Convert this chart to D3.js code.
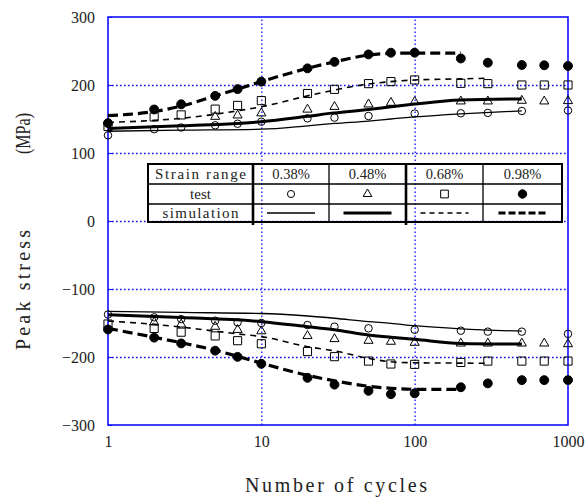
<!DOCTYPE html>
<html>
<head>
<meta charset="utf-8">
<script src="https://cdn.jsdelivr.net/npm/d3@7"></script>
<style>
  html, body { margin: 0; padding: 0; background: #fff; }
  svg { display: block; }
</style>
</head>
<body>
<svg id="chart" width="586" height="500"></svg>
<script>
// ---- data ----------------------------------------------------------------
const strainRanges = ["0.38%", "0.48%", "0.68%", "0.98%"];
const yTicks = [-300, -200, -100, 0, 100, 200, 300];
const xTicks = [1, 10, 100, 1000];

// test results (peak tensile / compressive stress, MPa)
const cyc038 = [1, 2, 3, 5, 7, 10, 20, 30, 50, 100, 200, 300, 500, 1000];
const testUp038 = [126, 135, 137.5, 140.7, 143, 146, 151, 152, 154.4, 158, 158.4, 159, 161.8, 162.5];
const testDn038 = [-137.5, -141.7, -144.3, -146.6, -149, -150, -153, -155.4, -157.8, -160, -161.3, -162.7, -162.7, -166];

const cycUp048 = [5, 7, 10, 20, 30, 50, 70, 100, 200, 300, 500, 700, 1000];
const testUp048 = [153.4, 155.4, 158.5, 164, 168, 171.6, 174, 175.3, 176, 176, 177, 176, 176.5];
const cycDn048 = [2, 3, 5, 7, 10, 20, 30, 50, 70, 100, 200, 300, 500, 700, 1000];
const testDn048 = [-149, -152, -155.4, -160, -162, -169, -173.5, -176, -177.4, -178.9, -180, -180, -180, -180, -181];

const cycAll = [1, 2, 3, 5, 7, 10, 20, 30, 50, 70, 100, 200, 300, 500, 700, 1000];
const testUp068 = [139, 153, 156, 164.5, 170, 177, 187.5, 193.6, 202, 205, 207.4, 202.5, 202, 200, 200, 200];
const testDn068 = [-151.5, -158, -163.5, -169, -176, -180.5, -192, -199.5, -206, -210.3, -210.8, -208, -206, -206, -206, -206];
const testUp098 = [144, 164, 171.6, 184, 194, 205, 224.5, 234, 245, 247.5, 247.5, 239, 232.8, 229.4, 229, 228];
const testDn098 = [-159.5, -171.5, -180, -190.7, -199.8, -210, -230.6, -240.6, -249.7, -254.7, -253.4, -244.5, -238.8, -234, -234, -234];

// simulation curves
const simCyc038 = [1, 3, 10, 20, 30, 50, 70, 100, 200, 500];
const simUp038 = [132, 133.5, 135, 140, 143.5, 147, 150, 153, 157.5, 162];
const simDn038 = [-133, -134.5, -136, -139.7, -143, -148, -150.5, -154, -158.5, -162];

const simCyc048 = [1, 3, 10, 20, 30, 50, 70, 100, 200, 500];
const simUp048 = [136, 140, 146, 154, 159, 164, 168, 172, 178, 179.5];
const simDn048 = [-138, -142, -148, -155.4, -160, -167.6, -171, -174, -180, -181];

const simCyc068 = [1, 2, 3, 5, 7, 10, 20, 30, 50, 70, 100, 200, 300];
const simUp068 = [145, 148, 151, 157, 162, 168, 184, 192.6, 201.5, 205, 207.4, 209, 210];
const simDn068 = [-147, -152, -156, -162, -166, -170, -184.8, -191, -202, -207, -208.5, -209, -209.3];

const simCyc098 = [1, 2, 3, 5, 7, 10, 20, 30, 50, 70, 100, 200];
const simUp098 = [155, 161, 169, 184, 194, 205, 224.5, 234, 244, 246.5, 247, 247];
const simDn098 = [-158, -171, -179, -190, -199, -209, -227, -235, -243, -246, -247.5, -247.5];

// ---- layout ---------------------------------------------------------------
const svg = d3.select("#chart");
const L = 108, R = 568, T = 17, B = 425;
const x = d3.scaleLog().domain([1, 1000]).range([L, R]);
const y = d3.scaleLinear().domain([-300, 300]).range([B, T]);

const blue = "#1010ff";
const ink = "#222";
const serif = "'Liberation Serif', 'Times New Roman', serif";

// grid
svg.append("g")
  .attr("transform", `translate(${L},0)`)
  .call(d3.axisLeft(y).tickValues([-200, -100, 0, 100, 200]).tickSize(-(R - L)).tickFormat(""))
  .call(g => g.select(".domain").remove())
  .selectAll("line")
  .attr("stroke", blue).attr("stroke-width", 1.3).attr("stroke-dasharray", "1.6,2.4");

svg.append("g")
  .attr("transform", `translate(0,${B})`)
  .call(d3.axisBottom(x).tickValues([10, 100]).tickSize(-(B - T)).tickFormat(""))
  .call(g => g.select(".domain").remove())
  .selectAll("line")
  .attr("stroke", blue).attr("stroke-width", 1.3).attr("stroke-dasharray", "1.6,2.4");

// axes with labels
const yAxis = svg.append("g")
  .attr("transform", `translate(${L},0)`)
  .call(d3.axisLeft(y).tickValues(yTicks).tickSize(-4).tickPadding(13));
yAxis.select(".domain").remove();
yAxis.selectAll("line").attr("stroke", blue);
yAxis.selectAll("text").attr("font-family", serif).attr("font-size", 16).attr("fill", ink);

const xAxis = svg.append("g")
  .attr("transform", `translate(0,${B})`)
  .call(d3.axisBottom(x).tickValues(xTicks).tickSize(0).tickPadding(11).tickFormat(d3.format("d")));
xAxis.select(".domain").remove();
xAxis.selectAll("text").attr("font-family", serif).attr("font-size", 16).attr("fill", ink);

// frame
svg.append("rect")
  .attr("x", L).attr("y", T).attr("width", R - L).attr("height", B - T)
  .attr("fill", "none").attr("stroke", blue).attr("stroke-width", 1.6);

// axis titles (fixed-pitch look via textLength)
svg.append("text")
  .attr("x", 245).attr("y", 492)
  .attr("font-family", serif).attr("font-size", 20).attr("fill", ink)
  .attr("textLength", 182).attr("lengthAdjust", "spacing")
  .text("Number of cycles");

const yTitle = svg.append("g").attr("transform", "translate(30,0) rotate(-90)");
yTitle.append("text")
  .attr("x", -350).attr("y", 0)
  .attr("font-family", serif).attr("font-size", 20).attr("fill", ink)
  .attr("textLength", 120).attr("lengthAdjust", "spacing")
  .text("Peak stress");
yTitle.append("text")
  .attr("x", -154).attr("y", 0)
  .attr("font-family", serif).attr("font-size", 20).attr("fill", ink)
  .attr("textLength", 41).attr("lengthAdjust", "spacingAndGlyphs")
  .text("(MPa)");

// ---- simulation curves ----------------------------------------------------
const lineGen = d3.line().x(d => x(d[0])).y(d => y(d[1])).curve(d3.curveMonotoneX);
const simStyles = [
  { w: 1.3, dash: null },
  { w: 3, dash: null },
  { w: 1.6, dash: "6,5" },
  { w: 3.2, dash: "10,5" }
];
const sims = [
  [simCyc038, simUp038, simDn038],
  [simCyc048, simUp048, simDn048],
  [simCyc068, simUp068, simDn068],
  [simCyc098, simUp098, simDn098]
];
sims.forEach(([c, up, dn], i) => {
  [up, dn].forEach(vals => {
    svg.append("path")
      .datum(c.map((cv, k) => [cv, vals[k]]))
      .attr("d", lineGen)
      .attr("fill", "none").attr("stroke", "#000")
      .attr("stroke-width", simStyles[i].w)
      .attr("stroke-dasharray", simStyles[i].dash);
  });
});

// ---- test markers ---------------------------------------------------------
const markers = [
  { type: d3.symbolCircle, size: 44, fill: "none" },
  { type: d3.symbolTriangle, size: 36, fill: "none" },
  { type: d3.symbolSquare, size: 66, fill: "none" },
  { type: d3.symbolCircle, size: 62, fill: "#000" }
];
const tests = [
  [[cyc038, testUp038], [cyc038, testDn038]],
  [[cycUp048, testUp048], [cycDn048, testDn048]],
  [[cycAll, testUp068], [cycAll, testDn068]],
  [[cycAll, testUp098], [cycAll, testDn098]]
];
tests.forEach((pairs, i) => {
  const m = markers[i];
  const sym = d3.symbol().type(m.type).size(m.size);
  pairs.forEach(([c, vals]) => {
    svg.append("g").selectAll("path")
      .data(c.map((cv, k) => [cv, vals[k]]))
      .join("path")
      .attr("transform", d => `translate(${x(d[0])},${y(d[1])})`)
      .attr("d", sym)
      .attr("fill", m.fill)
      .attr("stroke", "#000").attr("stroke-width", 1);
  });
});

// ---- legend table ---------------------------------------------------------
const colX = [148, 253, 329, 406, 483, 562];
const rowY = [164, 184, 204, 222];
const tbl = svg.append("g");
rowY.forEach((ry, i) => {
  tbl.append("line")
    .attr("x1", colX[0]).attr("x2", colX[5]).attr("y1", ry).attr("y2", ry)
    .attr("stroke", "#000").attr("stroke-width", (i === 0 || i === 3) ? 2 : 1.5);
});
colX.forEach((cx, i) => {
  const thick = (i === 1 || i === 3);
  tbl.append("line")
    .attr("x1", cx).attr("x2", cx).attr("y1", rowY[0] - 1).attr("y2", rowY[3] + (thick ? 3 : 1))
    .attr("stroke", "#000").attr("stroke-width", thick ? 2.6 : (i === 0 || i === 5 ? 2 : 1.3));
});
const rowLabels = ["Strain range", "test", "simulation"];
const rowLabelW = [91, 21, 76];
rowLabels.forEach((t, i) => {
  tbl.append("text")
    .attr("x", (colX[0] + colX[1]) / 2 - rowLabelW[i] / 2)
    .attr("y", (rowY[i] + rowY[i + 1]) / 2 + 5)
    .attr("font-family", serif).attr("font-size", 15).attr("fill", ink)
    .attr("textLength", rowLabelW[i]).attr("lengthAdjust", "spacing")
    .text(t);
});
strainRanges.forEach((s, i) => {
  const cx = (colX[i + 1] + colX[i + 2]) / 2;
  tbl.append("text")
    .attr("x", cx).attr("y", (rowY[0] + rowY[1]) / 2 + 5)
    .attr("text-anchor", "middle")
    .attr("font-family", serif).attr("font-size", 14.5).attr("fill", ink)
    .text(s);
  const m = markers[i];
  tbl.append("path")
    .attr("transform", `translate(${cx},${(rowY[1] + rowY[2]) / 2})`)
    .attr("d", d3.symbol().type(m.type).size(m.size * 0.9))
    .attr("fill", m.fill).attr("stroke", "#000").attr("stroke-width", 1);
  tbl.append("line")
    .attr("x1", cx - 24).attr("x2", cx + 24)
    .attr("y1", (rowY[2] + rowY[3]) / 2).attr("y2", (rowY[2] + rowY[3]) / 2)
    .attr("stroke", "#000").attr("stroke-width", simStyles[i].w)
    .attr("stroke-dasharray", simStyles[i].dash ? (i === 2 ? "5,4" : "7,3") : null);
});
</script>
</body>
</html>
